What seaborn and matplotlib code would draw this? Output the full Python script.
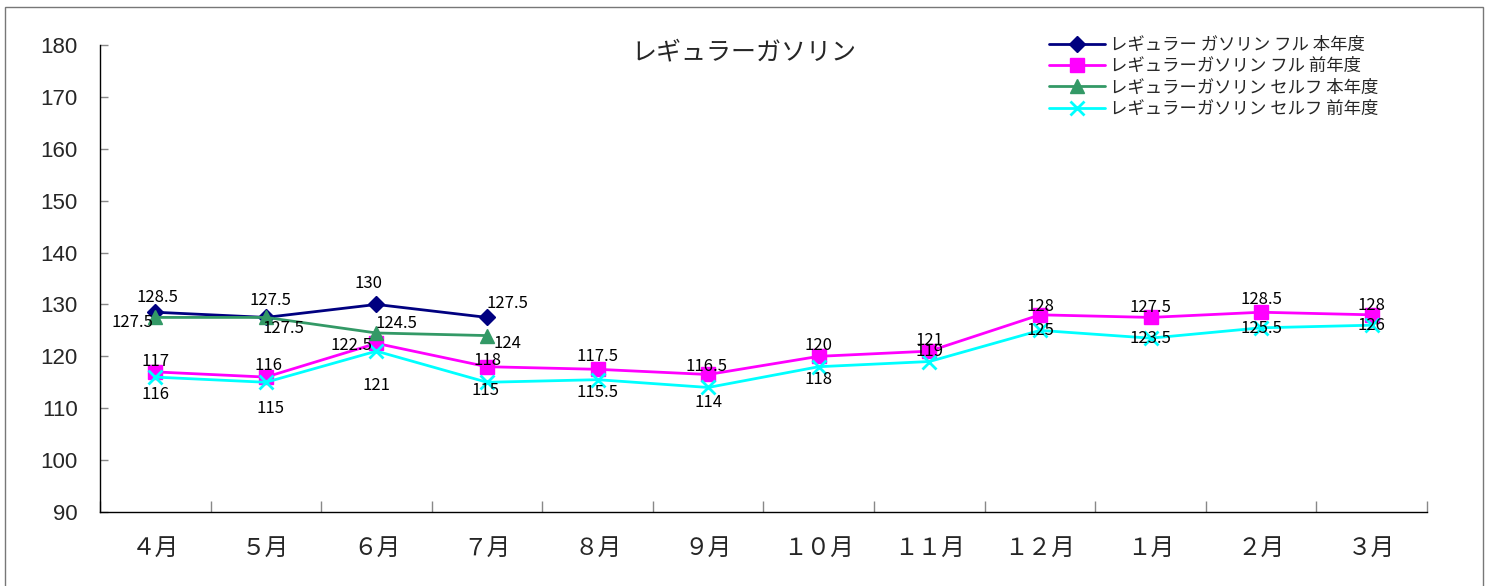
import matplotlib
matplotlib.use("Agg")
import matplotlib.pyplot as plt
import seaborn as sns
import pandas as pd
from matplotlib.patches import Rectangle

months = ["４月", "５月", "６月", "７月", "８月", "９月", "１０月", "１１月", "１２月", "１月", "２月", "３月"]
full_this = [128.5, 127.5, 130, 127.5]
full_prev = [117, 116, 122.5, 118, 117.5, 116.5, 120, 121, 128, 127.5, 128.5, 128]
self_this = [127.5, 127.5, 124.5, 124]
self_prev = [116, 115, 121, 115, 115.5, 114, 118, 119, 125, 123.5, 125.5, 126]

names = ["レギュラー ガソリン フル 本年度", "レギュラーガソリン フル 前年度",
         "レギュラーガソリン セルフ 本年度", "レギュラーガソリン セルフ 前年度"]
series = [full_this, full_prev, self_this, self_prev]
colors = ["#000080", "#FF00FF", "#339966", "#00FFFF"]
markers = ["D", "s", "^", "x"]
msizes = [8, 10, 10, 10]

# label offsets from each point, in pixels (dx, dy up)
offsets = [
    [(2, 15), (5, 17), (-8, 21), (20, 14)],
    [(0, 10), (3, 12), (-25, -2), (0, 6), (0, 13), (-2, 8), (0, 11), (0, 11), (0, 8), (0, 10), (0, 13), (0, 9)],
    [(-23, -5), (18, -11), (20, 9), (20, -8)],
    [(0, -17), (5, -26), (0, -34), (-2, -8), (0, -13), (0, -15), (0, -13), (0, 10), (0, 0), (0, 0), (0, -1), (0, 0)],
]

sns.set_style("white")
plt.rcParams["font.family"] = ["Noto Sans CJK JP", "DejaVu Sans"]

fig = plt.figure(figsize=(14.99, 5.86), dpi=100)
ax = fig.add_axes([100 / 1499, 1 - 512 / 586, 1327 / 1499, 467 / 586])

for name, vals, c, m, ms, offs in zip(names, series, colors, markers, msizes, offsets):
    df = pd.DataFrame({"x": range(len(vals)), "y": vals})
    sns.lineplot(data=df, x="x", y="y", ax=ax, color=c, marker=m, markersize=ms,
                 markeredgecolor=c, markeredgewidth=2 if m == "x" else 1,
                 linewidth=2, label=name)
    for i, v in enumerate(vals):
        ax.annotate(f"{v:g}", (i, v), xytext=offs[i], textcoords="offset pixels",
                    ha="center", va="center", fontsize=12, color="black")

ax.set_xlim(-0.5, 11.5)
ax.set_ylim(90, 180)
ax.set_yticks(range(90, 181, 10))
ax.set_yticklabels([str(t) for t in range(90, 181, 10)], family=["Liberation Sans"])
ax.set_xticks(range(12))
ax.set_xticklabels(months, fontsize=17)
ax.set_xticks([i + 0.5 for i in range(-1, 12)], minor=True)
ax.tick_params(axis="x", which="major", bottom=True, length=0, pad=18)
ax.tick_params(axis="x", which="minor", bottom=True, length=8, width=1, direction="in", color="#888888")
ax.tick_params(axis="y", left=True, length=6, width=1, direction="in", color="#888888", labelsize=16, pad=16)
ax.set_xlabel("")
ax.set_ylabel("")
for s in ["top", "right"]:
    ax.spines[s].set_visible(False)
for s in ["left", "bottom"]:
    ax.spines[s].set_color("black")
    ax.spines[s].set_linewidth(1)

ax.text(0.485, 0.985, "レギュラーガソリン", transform=ax.transAxes, ha="center", va="center", fontsize=18)

ax.legend(loc="upper left", bbox_to_anchor=(0.71, 1.035), frameon=False, fontsize=12.5,
          handlelength=3.2, labelspacing=0.2, borderaxespad=0, handletextpad=0.3)

fig.patches.append(Rectangle((5 / 1499, -0.1), 1478 / 1499, 1.1 - 7 / 586, transform=fig.transFigure,
                             fill=False, edgecolor="#777777", linewidth=1))

fig.savefig("out.png", dpi=100)
